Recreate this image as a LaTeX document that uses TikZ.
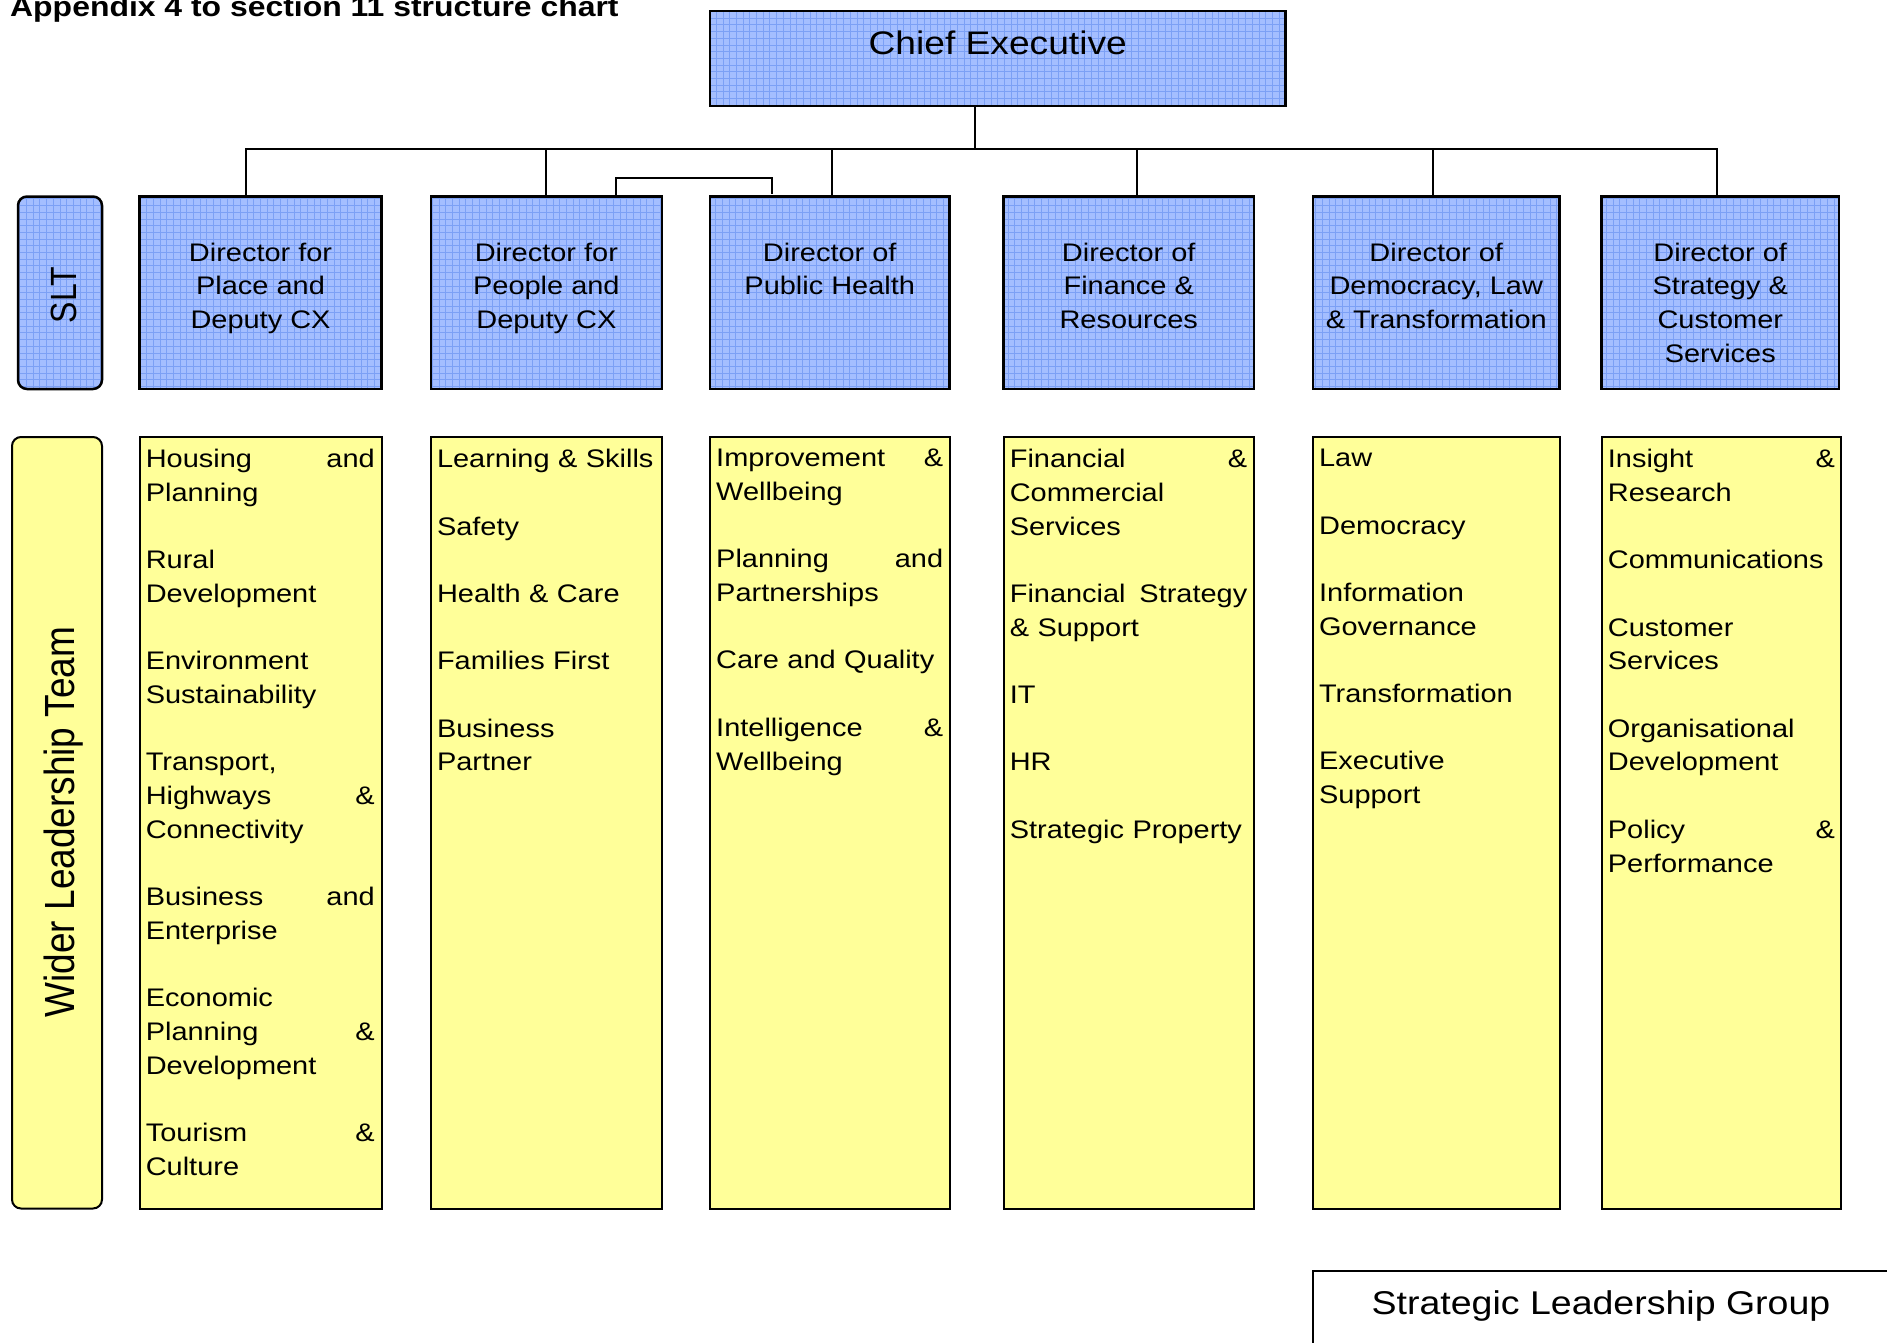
\documentclass[tikz,border=0pt]{standalone}
\usepackage{fontspec}
\setmainfont{Liberation Sans}[FakeStretch=1.14]
\newfontfamily\sidefont{Liberation Sans}
\usetikzlibrary{positioning}

\definecolor{dirblue}{RGB}{164,190,255}
\definecolor{gridblue}{RGB}{124,160,245}
\definecolor{unityellow}{RGB}{255,255,153}

\newcommand{\chartfont}{\fontsize{25.4}{33.7}\selectfont}
\newcommand{\bigchartfont}{\fontsize{32.6}{38}\selectfont}
\newcommand{\itemgap}{\\[33.7pt]}

\begin{document}
\begin{tikzpicture}[x=1pt,y=-1pt,
    bluebox/.style={draw, line width=2.5pt, fill=dirblue, outer sep=0pt,
      path picture={\draw[gridblue, line width=1pt]
        (path picture bounding box.south west) grid[step=6.7pt]
        (path picture bounding box.north east);}},
    unitbox/.style={draw, line width=2pt, fill=unityellow, outer sep=0pt},
    link/.style={line width=2pt}]

  \useasboundingbox (0,0) rectangle (1887,1342);
  \clip (0,0) rectangle (1887,1342);

  \node[anchor=base west, inner sep=0pt, font=\bfseries\fontsize{28}{32}\selectfont]
    (title) at (10,16) {Appendix 4 to section 11 structure chart};

  % chief executive and directors
  \begin{scope}[every node/.style={bluebox, minimum height=192.5pt}]
    \node[minimum width=575.5pt, minimum height=95.2pt] (ce) at (997.75,58.4) {};
    \node[minimum width=84pt, rounded corners=9pt] (slt) at (60,292.75) {};
    \node[minimum width=241.9pt] (place)     at (260.55,292.75)  {};
    \node[minimum width=231.1pt] (people)    at (546.35,292.75)  {};
    \node[minimum width=239.5pt] (health)    at (829.75,292.75)  {};
    \node[minimum width=250.3pt] (finance)   at (1128.75,292.75) {};
    \node[minimum width=246.7pt] (democracy) at (1436.25,292.75) {};
    \node[minimum width=237.1pt] (strategy)  at (1720.25,292.75) {};
  \end{scope}

  % wider leadership team
  \begin{scope}[every node/.style={unitbox, minimum height=771.5pt}]
    \node[minimum width=90pt, rounded corners=9pt] (wlt) at (57,822.75) {};
    \node[minimum width=241.9pt] (place unit)     at (260.55,822.75)  {};
    \node[minimum width=231.1pt] (people unit)    at (546.35,822.75)  {};
    \node[minimum width=239.5pt] (health unit)    at (829.75,822.75)  {};
    \node[minimum width=250.3pt] (finance unit)   at (1128.75,822.75) {};
    \node[minimum width=246.7pt] (democracy unit) at (1436.25,822.75) {};
    \node[minimum width=239.5pt] (strategy unit)  at (1721.45,822.75) {};
  \end{scope}

  \node[draw, line width=2pt, fill=white, outer sep=0pt, minimum width=590pt,
    minimum height=90pt] (slg) at (1608,1316) {};

  % reporting lines
  \coordinate (bus) at (975,149);
  \draw[link] (ce.south -| bus) -- (bus);
  \draw[link] ([xshift=-15pt]place.north) |- (bus) -| ([xshift=-3pt]strategy.north);
  \foreach \n/\dx in {people/0, health/1.75, finance/8.5, democracy/-3}
    \draw[link] ([xshift=\dx pt]\n.north) |- (bus);
  \draw[link] ([xshift=70pt]people.north) -- ++(0,-19)
    -| ([xshift=-58pt,yshift=3pt]health.north);

  % box titles
  \node[anchor=base, font=\bigchartfont] (ce title) at ([yshift=-44pt]ce.north)
    {Chief Executive};
  \node[anchor=base, font=\fontsize{32.9}{38}\selectfont] (slg title)
    at ([xshift=-7pt,yshift=-43pt]slg.north) {Strategic Leadership Group};
  \node[rotate=90, anchor=base, inner sep=0pt, font=\sidefont\fontsize{32}{36}\selectfont]
    (slt title) at (76,295) {\scalebox{1}[1.14]{SLT}};
  \node[rotate=90, anchor=base, inner sep=0pt, font=\sidefont\fontsize{37}{42}\selectfont]
    (wlt title) at (74,822) {\scalebox{1}[1.14]{Wider Leadership Team}};

  \begin{scope}[every node/.style={inner sep=0pt, font=\chartfont}]
    \node[align=center, below=46pt of place.north] (place title)
      {Director for\\Place and\\Deputy CX};
    \node[align=center, below=46pt of people.north] (people title)
      {Director for\\People and\\Deputy CX};
    \node[align=center, below=46pt of health.north] (health title)
      {Director of\\Public Health};
    \node[align=center, below=46pt of finance.north] (finance title)
      {Director of\\Finance \&\\Resources};
    \node[align=center, below=46pt of democracy.north] (democracy title)
      {Director of\\Democracy, Law\\\& Transformation};
    \node[align=center, below=46pt of strategy.north] (strategy title)
      {Director of\\Strategy \&\\Customer\\Services};
  \end{scope}

  % service lists
  \begin{scope}[every node/.style={inner sep=0pt, align=left, font=\chartfont}]
    \node[text width=229pt, below right=12pt and 6pt of place unit.north west]
      (place list) {Housing\hfill and\\Planning\itemgap
        Rural\\Development\itemgap
        Environment\\Sustainability\itemgap
        Transport,\\Highways\hfill \&\\Connectivity\itemgap
        Business\hfill and\\Enterprise\itemgap
        Economic\\Planning\hfill \&\\Development\itemgap
        Tourism\hfill \&\\Culture};
    \node[text width=218pt, below right=12pt and 6pt of people unit.north west]
      (people list) {Learning \& Skills\itemgap
        Safety\itemgap
        Health \& Care\itemgap
        Families First\itemgap
        Business\\Partner};
    \node[text width=227pt, below right=12pt and 6pt of health unit.north west]
      (health list) {Improvement\hfill \&\\Wellbeing\itemgap
        Planning\hfill and\\Partnerships\itemgap
        Care and Quality\itemgap
        Intelligence\hfill \&\\Wellbeing};
    \node[text width=237.5pt, below right=12pt and 6pt of finance unit.north west]
      (finance list) {Financial\hfill \&\\Commercial\\Services\itemgap
        Financial\hfill Strategy\\\& Support\itemgap
        IT\itemgap
        HR\itemgap
        Strategic Property};
    \node[text width=234pt, below right=12pt and 6pt of democracy unit.north west]
      (democracy list) {Law\itemgap
        Democracy\itemgap
        Information\\Governance\itemgap
        Transformation\itemgap
        Executive\\Support};
    \node[text width=227pt, below right=12pt and 6pt of strategy unit.north west]
      (strategy list) {Insight\hfill \&\\Research\itemgap
        Communications\itemgap
        Customer\\Services\itemgap
        Organisational\\Development\itemgap
        Policy\hfill \&\\Performance};
  \end{scope}

\end{tikzpicture}
\end{document}
